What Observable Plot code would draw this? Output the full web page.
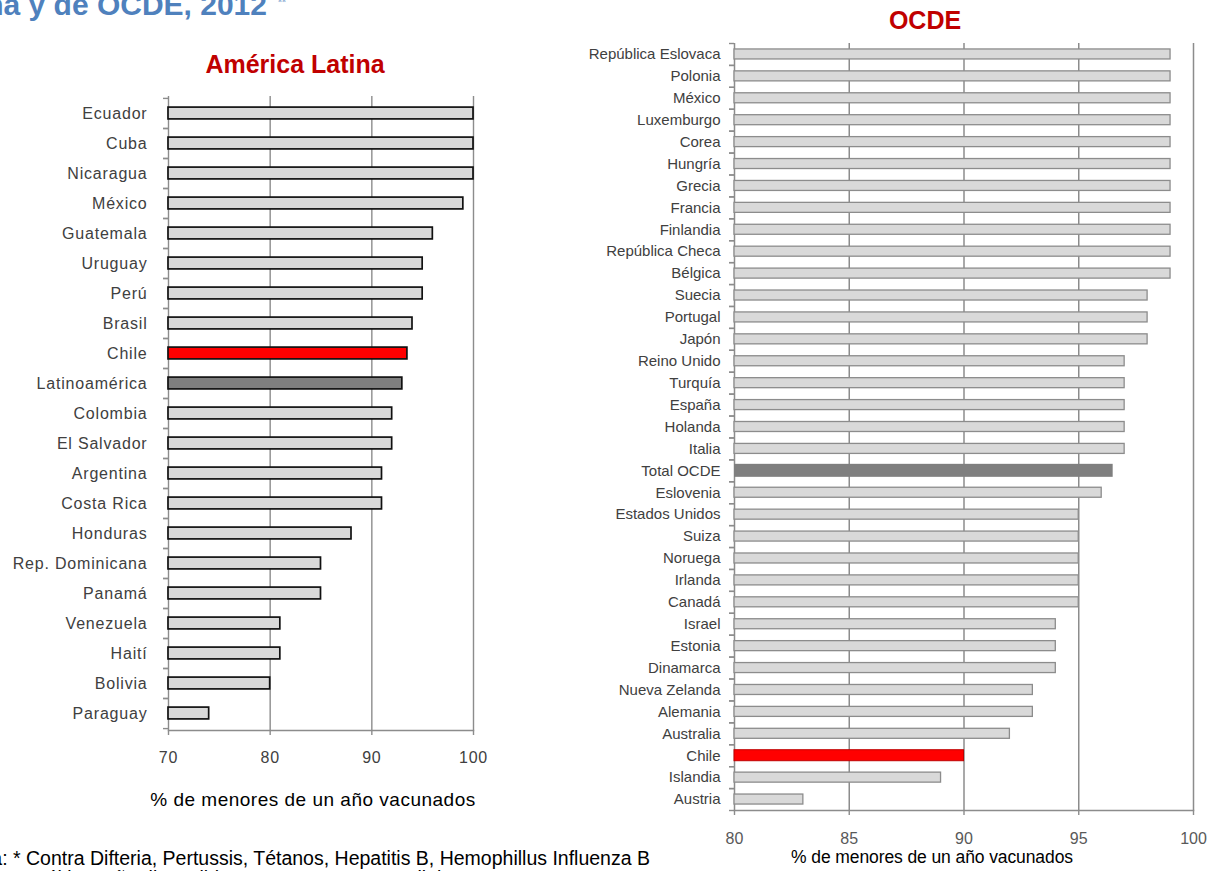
<!DOCTYPE html>
<html>
<head>
<meta charset="utf-8">
<script src="https://cdn.jsdelivr.net/npm/d3@7"></script>
<script src="https://cdn.jsdelivr.net/npm/@observablehq/plot@0.6"></script>
<style>
  html, body { margin: 0; padding: 0; background: #fff; }
  #root { position: relative; width: 1218px; height: 871px; overflow: hidden; background: #fff; font-family: "Liberation Sans", Arial, sans-serif; }
  .abs { position: absolute; white-space: nowrap; }
  #left svg text { letter-spacing: 0.8px; }
</style>
</head>
<body>
<div id="root">
  <div class="abs" style="right:951px; top:-12px; line-height:30px; font: bold 30px 'Liberation Sans', Arial, sans-serif; color:#4F81BD;">Cobertura de vacunación en países de América Latina y de OCDE, 2012</div>
  <div class="abs" style="left:278px; top:-3px; font: bold 10px 'Liberation Sans', Arial, sans-serif; color:#95B3D7;">**</div>
  <div class="abs" style="left:0; width:590px; text-align:center; top:50px; font: bold 25px 'Liberation Sans', Arial, sans-serif; color:#C00000;">América Latina</div>
  <div class="abs" style="left:825px; width:200px; text-align:center; top:6px; font: bold 25px 'Liberation Sans', Arial, sans-serif; color:#C00000;">OCDE</div>
  <div id="left" class="abs" style="left:0; top:0;"></div>
  <div id="right" class="abs" style="left:560px; top:0;"></div>
  <div class="abs" style="left:0; width:626px; text-align:center; top:789px; font: 19px 'Liberation Sans', Arial, sans-serif; letter-spacing:0.5px; color:#000;">% de menores de un año vacunados</div>
  <div class="abs" style="left:732px; width:400px; text-align:center; top:847px; font: 17.5px 'Liberation Sans', Arial, sans-serif; letter-spacing:-0.1px; color:#000;">% de menores de un año vacunados</div>
  <div class="abs" style="left:-39px; top:847px; line-height:20px; font: 19.5px 'Liberation Sans', Arial, sans-serif; color:#000;">Nota: * Contra Difteria, Pertussis, Tétanos, Hepatitis B, Hemophillus Influenza B</div>
  <div class="abs" style="left:-39px; top:867px; line-height:20px; font: 19.5px 'Liberation Sans', Arial, sans-serif; color:#000;">** 2012 o último año disponible. Fuente: Banco Mundial y OCDE</div>
</div>
<script>
// ---- Data: América Latina ----
const latCountries = ["Ecuador","Cuba","Nicaragua","México","Guatemala","Uruguay","Perú","Brasil","Chile","Latinoamérica","Colombia","El Salvador","Argentina","Costa Rica","Honduras","Rep. Dominicana","Panamá","Venezuela","Haití","Bolivia","Paraguay"];
const latValues = [100,100,100,99,96,95,95,94,93.5,93,92,92,91,91,88,85,85,81,81,80,74];
const latTicks = [70,80,90,100];

// ---- Data: OCDE ----
const oecdCountries = ["República Eslovaca","Polonia","México","Luxemburgo","Corea","Hungría","Grecia","Francia","Finlandia","República Checa","Bélgica","Suecia","Portugal","Japón","Reino Unido","Turquía","España","Holanda","Italia","Total OCDE","Eslovenia","Estados Unidos","Suiza","Noruega","Irlanda","Canadá","Israel","Estonia","Dinamarca","Nueva Zelanda","Alemania","Australia","Chile","Islandia","Austria"];
const oecdValues = [99,99,99,99,99,99,99,99,99,99,99,98,98,98,97,97,97,97,97,96.5,96,95,95,95,95,95,94,94,94,93,93,92,90,89,83];
const oecdTicks = [80,85,90,95,100];

const highlight = "Chile";
const latTotal = "Latinoamérica";
const oecdTotal = "Total OCDE";

const gridColor = "#8c8c8c";

// ---- Left chart ----
{
  const W = 560, H = 820, mT = 96, mB = 90, mL = 168, mR = 87;
  const step = (H - mT - mB) / latCountries.length;
  const data = latCountries.map((c, i) => ({country: c, value: latValues[i]}));
  const base = latTicks[0];
  const barH = 12;
  const chart = Plot.plot({
    width: W, height: H,
    marginTop: mT, marginBottom: mB, marginLeft: mL, marginRight: mR,
    style: {fontFamily: "'Liberation Sans', Arial, sans-serif", background: "transparent", color: "#404040"},
    x: {domain: [latTicks[0], latTicks[latTicks.length - 1]]},
    y: {domain: latCountries, padding: 0},
    marks: [
      Plot.ruleX(latTicks, {stroke: gridColor, strokeWidth: 1.4}),
      Plot.axisY({tickSize: 5, text: null, label: null, dy: -step / 2, stroke: gridColor, strokeWidth: 1.4}),
      Plot.axisY({tickSize: 5, text: null, label: null, dy: step / 2, stroke: gridColor, strokeWidth: 1.4}),
      Plot.frame({anchor: "bottom", stroke: gridColor, strokeWidth: 1.4}),
      Plot.axisX({ticks: latTicks, tickSize: 5, tickPadding: 16, stroke: gridColor, strokeWidth: 1.4, fill: "#404040", fontSize: 16, label: null}),
      Plot.axisY({tickSize: 0, tickPadding: 21, fill: "#404040", fontSize: 16, label: null}),
      Plot.barX(data, {
        y: "country", x1: () => base, x2: "value",
        fill: d => d.country === highlight ? "#ff0000" : d.country === latTotal ? "#7f7f7f" : "#d9d9d9",
        stroke: "#111", strokeWidth: 1.7,
        insetTop: (step - barH) / 2, insetBottom: (step - barH) / 2
      })
    ]
  });
  document.getElementById("left").append(chart);
}

// ---- Right chart ----
{
  const W = 658, H = 871, mT = 43, mB = 61, mL = 174, mR = 25;
  const step = (H - mT - mB) / oecdCountries.length;
  const data = oecdCountries.map((c, i) => ({country: c, value: oecdValues[i]}));
  const base = oecdTicks[0];
  const inset = h => (step - h) / 2;
  const chart = Plot.plot({
    width: W, height: H,
    marginTop: mT, marginBottom: mB, marginLeft: mL, marginRight: mR,
    style: {fontFamily: "'Liberation Sans', Arial, sans-serif", background: "transparent", color: "#404040"},
    x: {domain: [oecdTicks[0], oecdTicks[oecdTicks.length - 1]]},
    y: {domain: oecdCountries, padding: 0},
    marks: [
      Plot.ruleX(oecdTicks, {stroke: gridColor, strokeWidth: 1.5}),
      Plot.axisY({tickSize: 5, text: null, label: null, dy: -step / 2, stroke: gridColor, strokeWidth: 1.4}),
      Plot.axisY({tickSize: 5, text: null, label: null, dy: step / 2, stroke: gridColor, strokeWidth: 1.4}),
      Plot.frame({anchor: "bottom", stroke: gridColor, strokeWidth: 1.5}),
      Plot.axisX({ticks: oecdTicks, tickSize: 5, tickPadding: 17, stroke: gridColor, strokeWidth: 1.4, fill: "#595959", fontSize: 16, label: null}),
      Plot.axisY({tickSize: 0, tickPadding: 14, fill: "#404040", fontSize: 15, label: null}),
      Plot.barX(data.filter(d => d.country !== highlight && d.country !== oecdTotal), {
        y: "country", x1: () => base, x2: "value",
        fill: "#d9d9d9", stroke: "#8c8c8c", strokeWidth: 1.3,
        insetTop: inset(10), insetBottom: inset(10)
      }),
      Plot.barX(data.filter(d => d.country === oecdTotal), {
        y: "country", x1: () => base, x2: "value",
        fill: "#7f7f7f",
        insetTop: inset(13), insetBottom: inset(13)
      }),
      Plot.barX(data.filter(d => d.country === highlight), {
        y: "country", x1: () => base, x2: "value",
        fill: "#ff0000", stroke: "#c00000", strokeWidth: 1,
        insetTop: inset(11), insetBottom: inset(11)
      })
    ]
  });
  document.getElementById("right").append(chart);
}
</script>
</body>
</html>
